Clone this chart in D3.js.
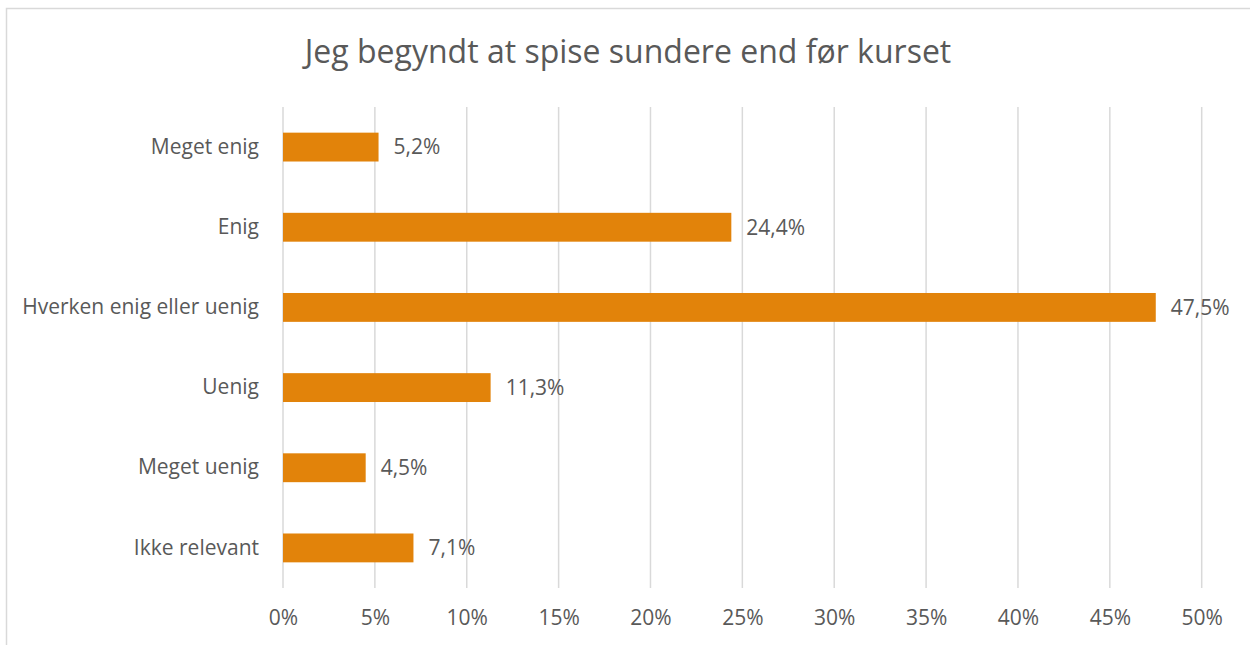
<!DOCTYPE html>
<html lang="en">
<head>
    <meta charset="UTF-8">
    <title>sundere_kost</title>
    <script src="https://d3js.org/d3.v7.min.js"></script>
    <style>
        body { margin: 0; background: #fff; }
        svg text { font-family: "Open Sans", "Noto Sans", sans-serif; fill: #595959; }
    </style>
</head>
<body>
    <div id="chart"></div>
    <script>
        // data
        var categories = ["Meget enig", "Enig", "Hverken enig eller uenig", "Uenig", "Meget uenig", "Ikke relevant"];
        var values = [5.2, 24.4, 47.5, 11.3, 4.5, 7.1];
        var ticks = [0, 5, 10, 15, 20, 25, 30, 35, 40, 45, 50];
        var title = "Jeg begyndt at spise sundere end før kurset";

        var W = 1250, H = 645;
        var margin = {top: 107, left: 283, right: 48, bottom: 57};

        var svg = d3.select("#chart").append("svg")
            .attr("width", W)
            .attr("height", H);

        // chart frame (runs off right and bottom edge)
        svg.append("rect")
            .attr("x", 6.5).attr("y", 8.5)
            .attr("width", W + 20).attr("height", H + 20)
            .attr("fill", "none")
            .attr("stroke", "#d9d9d9")
            .attr("stroke-width", 1.5);

        var x = d3.scaleLinear()
            .domain([0, 50])
            .range([margin.left, 1201.7]);

        var y = d3.scaleBand()
            .domain(categories)
            .range([margin.top, 588])
            .paddingInner(0.64)
            .paddingOuter(0.32);

        // gridlines
        svg.append("g")
            .selectAll("line")
            .data(ticks)
            .enter().append("line")
            .attr("x1", function(d) { return x(d); })
            .attr("x2", function(d) { return x(d); })
            .attr("y1", margin.top)
            .attr("y2", 588)
            .attr("stroke", "#d9d9d9")
            .attr("stroke-width", 1.5);

        // x axis labels
        var xAxis = svg.append("g")
            .attr("transform", "translate(0,588)")
            .call(d3.axisBottom(x).tickValues(ticks).tickSize(0).tickPadding(22)
                .tickFormat(function(d) { return d + "%"; }));
        xAxis.select(".domain").remove();
        xAxis.selectAll("text")
            .style("font-size", "21px")
            .style("fill", "#595959");

        // y axis labels
        var yAxis = svg.append("g")
            .attr("transform", "translate(" + (margin.left - 24) + ",0)")
            .call(d3.axisLeft(y).tickSize(0).tickPadding(0));
        yAxis.select(".domain").remove();
        yAxis.selectAll("text")
            .style("font-size", "21px")
            .style("fill", "#595959");

        // bars
        svg.append("g")
            .selectAll("rect")
            .data(values)
            .enter().append("rect")
            .attr("x", x(0))
            .attr("y", function(d, i) { return y(categories[i]); })
            .attr("width", function(d) { return x(d) - x(0); })
            .attr("height", y.bandwidth())
            .attr("fill", "#e2830a");

        // value labels
        svg.append("g")
            .selectAll("text")
            .data(values)
            .enter().append("text")
            .attr("x", function(d) { return x(d) + 15; })
            .attr("y", function(d, i) { return y(categories[i]) + y.bandwidth() / 2; })
            .attr("dy", "0.35em")
            .style("font-size", "21px")
            .text(function(d) { return d.toFixed(1).replace(".", ",") + "%"; });

        // title
        svg.append("text")
            .attr("x", 628)
            .attr("y", 52)
            .attr("dy", "0.35em")
            .attr("text-anchor", "middle")
            .style("font-size", "32px")
            .text(title);
    </script>
</body>
</html>
